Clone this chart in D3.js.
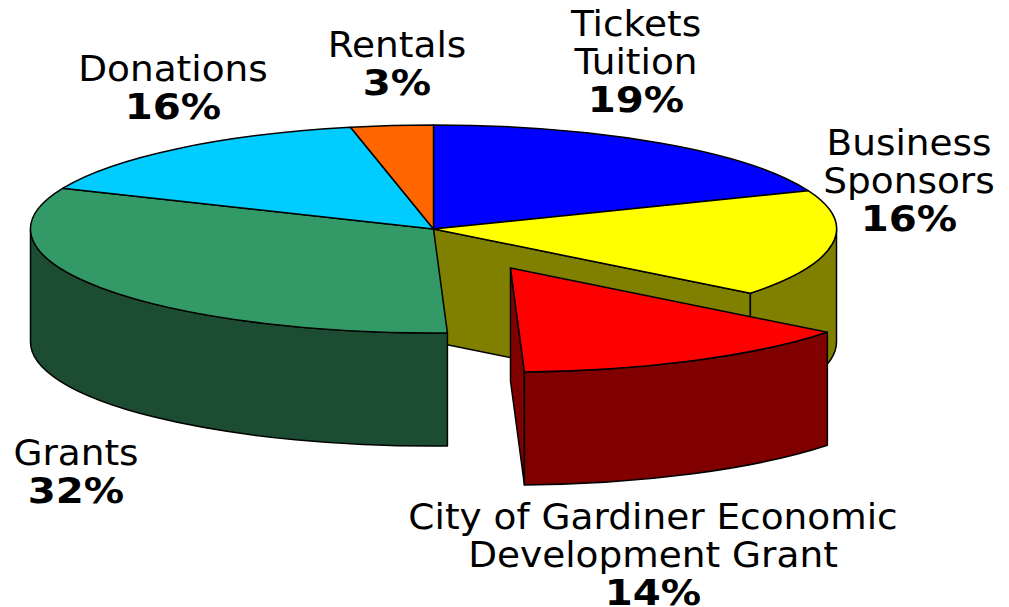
<!DOCTYPE html>
<html>
<head>
<meta charset="utf-8">
<script src="https://cdn.jsdelivr.net/npm/d3@7"></script>
<style>
  html, body { margin: 0; padding: 0; background: #fff; overflow: hidden; }
  text { font-family: "DejaVu Sans", sans-serif; font-size: 36px; fill: #000; text-anchor: middle; }
  text.pct { font-weight: bold; }
</style>
</head>
<body>
<div id="chart"></div>
<script>
// slice shares (their angles, not the rounded labels)
const categories = ["Tickets Tuition", "Business Sponsors", "City of Gardiner Economic Development Grant", "Grants", "Donations", "Rentals"];
const shares = [19, 16.6, 13.85, 31.95, 15.3, 3.3];
const pctLabels = ["19%", "16%", "14%", "32%", "16%", "3%"];
const nameLines = [["Tickets", "Tuition"], ["Business", "Sponsors"], ["City of Gardiner Economic", "Development Grant"], ["Grants"], ["Donations"], ["Rentals"]];
const topColors = ["#0000ff", "#ffff00", "#ff0000", "#339966", "#00ccff", "#ff6600"];
const sideColors = ["#000080", "#808000", "#800000", "#1c4d33", "#006680", "#803300"];

const width = 1009, height = 607;
const cx = 433.5, cy = 229, rx = 403, ry = 104, depth = 113;
const explode = { 2: [77, 39] };
const labelPos = [[636, 36], [909, 155], [653, 529], [76, 465], [173, 81], [397, 57]];
const lineStep = 38;
// the chart's face is wider than DejaVu, stretch the glyphs sideways to fit
const nameStretch = 1.04, pctStretch = 1.12;

const svg = d3.select("#chart").append("svg")
    .attr("width", width)
    .attr("height", height);

// unit circle -> flattened ellipse on the page
const x = d3.scaleLinear().domain([-1, 1]).range([cx - rx, cx + rx]);
const y = d3.scaleLinear().domain([-1, 1]).range([cy - ry, cy + ry]);
const px = a => x(Math.sin(a));
const py = a => y(-Math.cos(a));

const pie = d3.pie().value(d => d).sort(null);
const slices = pie(shares);

function topPath(d) {
    const large = d.endAngle - d.startAngle > Math.PI ? 1 : 0;
    return `M${cx},${cy}L${px(d.startAngle)},${py(d.startAngle)}` +
        `A${rx},${ry} 0 ${large} 1 ${px(d.endAngle)},${py(d.endAngle)}Z`;
}

// outer wall, only the part of the rim that faces the viewer
function wallPath(d) {
    const a0 = Math.max(d.startAngle, Math.PI / 2);
    const a1 = Math.min(d.endAngle, Math.PI * 1.5);
    if (a1 <= a0) return null;
    return `M${px(a0)},${py(a0)}A${rx},${ry} 0 0 1 ${px(a1)},${py(a1)}` +
        `L${px(a1)},${py(a1) + depth}A${rx},${ry} 0 0 0 ${px(a0)},${py(a0) + depth}Z`;
}

// flat cut face running from the centre out to the rim at angle a
function cutPath(a) {
    return `M${cx},${cy}L${px(a)},${py(a)}L${px(a)},${py(a) + depth}L${cx},${cy + depth}Z`;
}

function drawPaths(g, pathD, fill) {
    g.append("path")
        .attr("d", pathD)
        .attr("fill", fill)
        .attr("stroke", "#000")
        .attr("stroke-width", 1.5)
        .attr("stroke-linejoin", "round");
}

const chart = svg.append("g");
const main = chart.append("g");

// Sponsors cut face shows through the gap left by the pulled out slice
drawPaths(main, cutPath(slices[1].endAngle), sideColors[1]);

slices.forEach((d, i) => {
    if (explode[i]) return;
    const w = wallPath(d);
    if (w) drawPaths(main, w, sideColors[i]);
});
slices.forEach((d, i) => {
    if (!explode[i]) drawPaths(main, topPath(d), topColors[i]);
});

// pulled out slice goes on top
slices.forEach((d, i) => {
    if (!explode[i]) return;
    const g = chart.append("g")
        .attr("transform", `translate(${explode[i][0]},${explode[i][1]})`);
    drawPaths(g, cutPath(d.endAngle), sideColors[i]);
    drawPaths(g, wallPath(d), sideColors[i]);
    drawPaths(g, topPath(d), topColors[i]);
});

// Labels
const labels = svg.append("g");
categories.forEach((c, i) => {
    const [lx, ly] = labelPos[i];
    const t = labels.append("g");
    nameLines[i].forEach((line, k) => {
        t.append("text")
            .attr("transform", `translate(${lx},${ly + k * lineStep}) scale(${nameStretch},1)`)
            .text(line);
    });
    t.append("text")
        .attr("class", "pct")
        .attr("transform", `translate(${lx},${ly + nameLines[i].length * lineStep}) scale(${pctStretch},1)`)
        .text(pctLabels[i]);
});
</script>
</body>
</html>
